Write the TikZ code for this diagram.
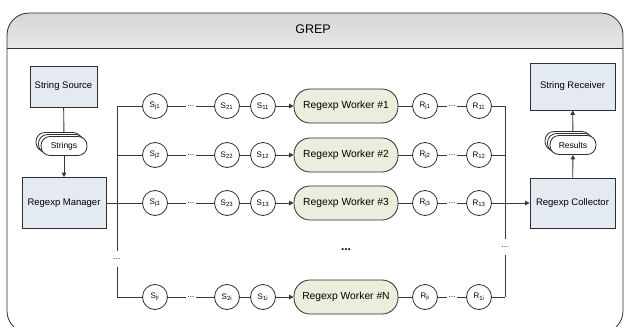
\documentclass[tikz,border=0pt]{standalone}
\usepackage{fontspec}
\setmainfont{Liberation Sans}
\usetikzlibrary{arrows.meta,backgrounds,shadows}
\definecolor{boxfill}{HTML}{E4EAF1}
\definecolor{workfill}{HTML}{EAEEDD}
\definecolor{linec}{HTML}{2E2E2E}
\definecolor{busc}{HTML}{383838}
\begin{document}
\begin{tikzpicture}[x=1pt,y=-1pt,
  ln/.style={draw=busc,line width=0.9pt},
  arr/.style={-{Triangle[length=4.5pt,width=4.5pt]}},
  blk/.style={draw=linec,fill=boxfill,line width=0.8pt,font=\fontsize{9.5}{11}\selectfont},
  wrk/.style={draw=linec,fill=workfill,line width=0.8pt,rounded corners=16pt,minimum width=104pt,minimum height=34pt,font=\fontsize{10.3}{12}\selectfont},
  crc/.style={draw=linec,fill=white,circle,line width=0.8pt,minimum size=25pt,inner sep=0pt,font=\fontsize{8}{9}\selectfont},
  dts/.style={inner sep=1.5pt,font=\fontsize{8}{9}\selectfont},
  vdts/.style={inner sep=0pt,minimum height=15pt,font=\fontsize{8}{9}\selectfont},
  stk/.style={draw=linec,fill=white,line width=0.8pt,rounded corners=9pt,minimum width=46pt,minimum height=19pt,
    font=\fontsize{8.5}{10}\selectfont,double copy shadow={shadow xshift=-2.5pt,shadow yshift=2pt}}]
\useasboundingbox (0,0) rectangle (625,327);
% frame
\begin{scope}
  \clip (0,0) rectangle (625,48);
  \shade[top color=gray!32,bottom color=gray!4,rounded corners=22pt] (7,13) rectangle (623,90);
\end{scope}
\begin{scope}
  \clip (0,0) rectangle (625,327);
  \draw[linec,line width=0.8pt,rounded corners=22pt] (7,13) rectangle (623,333);
\end{scope}
\draw[linec,line width=0.8pt] (7,48) -- (623,48);
\node[font=\fontsize{12.5}{14}\selectfont] (title) at (313,29) {GREP};
% left side
\node[blk,minimum width=67pt,minimum height=41pt] (src) at (63.5,86.5) {String Source};
\node[stk] (str) at (64,146) {Strings};
\node[blk,minimum width=84pt,minimum height=51pt] (mgr) at (64,203) {Regexp Manager};
% right side
\node[blk,minimum width=85pt,minimum height=47pt] (rcv) at (572.5,86.5) {String Receiver};
\node[stk] (res) at (573,145) {Results};
\node[blk,minimum width=85pt,minimum height=50pt] (col) at (572.5,203) {Regexp Collector};
% buses
\coordinate (bl0) at (117,106);
\coordinate (bl9) at (117,297);
\coordinate (br0) at (505,106);
\coordinate (br9) at (505,297);
\node[vdts] (dl) at (117,259) {...};
\node[vdts] (dr) at (505,247) {...};
\node[font=\bfseries\fontsize{12}{14}\selectfont] (wd) at (346,250) {...};
\foreach \r/\y/\n/\lab in {1/106/1/1,2/155/2/2,3/203/3/3,4/297/i/N}{
  \coordinate (bl\r) at (117,\y);
  \coordinate (br\r) at (505,\y);
  \node[crc] (sj\r) at (155,\y) {S\textsubscript{j\n}};
  \node[dts] (sd\r) at (191,\y) {...};
  \node[crc] (s2\r) at (227,\y) {S\textsubscript{2\n}};
  \node[crc] (s1\r) at (263,\y) {S\textsubscript{1\n}};
  \node[wrk] (w\r) at (346,\y) {Regexp Worker \#\lab};
  \node[crc] (rj\r) at (425,\y) {R\textsubscript{j\n}};
  \node[dts] (rd\r) at (452,\y) {...};
  \node[crc] (r1\r) at (479,\y) {R\textsubscript{1\n}};
}
\begin{scope}[on background layer]
  \draw[ln] (src) -- (str);
  \draw[ln,arr] (str) -- (mgr);
  \draw[ln,arr] (col) -- (res);
  \draw[ln,arr] (res) -- (rcv);
  \draw[ln] (mgr) -- (bl3);
  \draw[ln] (bl0) -- (dl);
  \draw[ln] (dl) -- (bl9);
  \draw[ln] (br0) -- (dr);
  \draw[ln] (dr) -- (br9);
  \draw[ln,arr] (br3) -- (col);
  \foreach \r in {1,2,3,4}{
    \draw[ln] (bl\r) -- (sj\r) -- (sd\r) -- (s2\r) -- (s1\r);
    \draw[ln,arr] (s1\r) -- (w\r);
    \draw[ln] (w\r) -- (rj\r) -- (rd\r) -- (r1\r) -- (br\r);
  }
\end{scope}
\end{tikzpicture}
\end{document}
